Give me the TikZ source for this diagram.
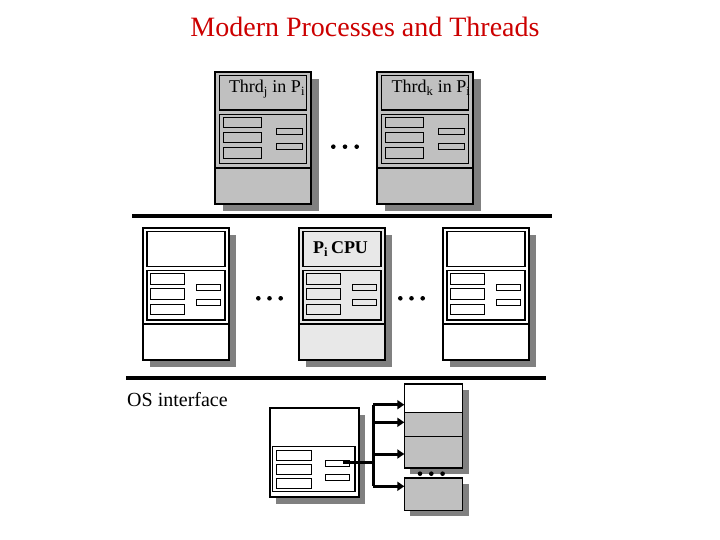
\documentclass[tikz,border=0pt]{standalone}
\usepackage{fontspec}
\setmainfont{Liberation Serif}
\usetikzlibrary{arrows.meta}
\definecolor{titlered}{RGB}{204,0,0}
\definecolor{gA}{RGB}{192,192,192}
\definecolor{gB}{RGB}{232,232,232}
\definecolor{shd}{RGB}{128,128,128}
\tikzset{
  bx/.style={draw=black, line width=1.1pt, inner sep=0pt, outer sep=0pt},
  sbx/.style={draw=black, line width=1pt, inner sep=0pt, outer sep=0pt},
  rs/.style 2 args={minimum width=#1pt, minimum height=#2pt, anchor=north west},
  shadowbox/.style={fill=shd, draw=none, inner sep=0pt, outer sep=0pt},
  divline/.style={line width=1.1pt},
  bar/.style={line width=4pt},
  thk/.style={line width=3pt},
  arr/.style={line width=3pt, -{Triangle[length=7pt,width=9pt]}},
  dotn/.style={circle, fill=black, inner sep=0pt, minimum size=4.6pt},
  lbl/.style={inner sep=0pt, font=\fontsize{18}{20}\selectfont},
  pics/upper/.style={code={
    \node[shadowbox, rs={96}{132}] (-sh) at (7.5,7.5) {};
    \node[bx, fill=#1, rs={96}{132}] (-out) at (0,0) {};
    \node[bx, fill=#1, rs={87}{34.5}] (-hdr) at (4.5,3.5) {};
    \node[bx, fill=#1, rs={87}{49}] (-mid) at (4.5,42.5) {};
    \draw[divline] (0,96) -- (96,96);
    \node[sbx, fill=#1, rs={38.5}{10.5}] (-a) at (8,45.5) {};
    \node[sbx, fill=#1, rs={38.5}{10.5}] (-b) at (8,60.5) {};
    \node[sbx, fill=#1, rs={38.5}{10.5}] (-c) at (8,76) {};
    \node[sbx, fill=#1, rs={26}{6}] (-d) at (61,56.3) {};
    \node[sbx, fill=#1, rs={26}{6}] (-e) at (61,71.3) {};
  }},
  pics/lower/.style={code={
    \node[shadowbox, rs={86}{132}] (-sh) at (7,7) {};
    \node[bx, fill=#1, rs={86}{132}] (-out) at (0,0) {};
    \node[bx, fill=#1, rs={78}{35}] (-hdr) at (4,3.5) {};
    \node[bx, fill=#1, rs={78}{49.5}] (-mid) at (4,42.5) {};
    \draw[divline] (0,96) -- (86,96);
    \node[sbx, fill=#1, rs={34}{10.5}] (-a) at (7,45.5) {};
    \node[sbx, fill=#1, rs={34}{10.5}] (-b) at (7,60.5) {};
    \node[sbx, fill=#1, rs={34}{10.5}] (-c) at (7,76) {};
    \node[sbx, fill=#1, rs={24}{6}] (-d) at (53,56.5) {};
    \node[sbx, fill=#1, rs={24}{6}] (-e) at (53,71.5) {};
  }}
}
\begin{document}
\begin{tikzpicture}[x=1pt, y=-1pt]
\useasboundingbox (0,0) rectangle (720,540);

% title
\node[inner sep=0pt, anchor=base, text=titlered, font=\fontsize{28}{30}\selectfont] (title) at (365,37) {Modern Processes and Threads};

% upper thread boxes
\pic (b1) at (215,72) {upper=gA};
\pic (b2) at (377,72) {upper=gA};
\node[lbl, anchor=base] (t1lbl) at (267,93) {Thrd\textsubscript{j} in P\textsubscript{i}};
\node[lbl, anchor=base] (t2lbl) at (431,93) {Thrd\textsubscript{k} in P\textsubscript{i}};
\node[dotn] (da1) at (333.3,146.7) {};
\node[dotn] (da2) at (345,146.7) {};
\node[dotn] (da3) at (356.7,146.7) {};

% first bar
\coordinate (bar1l) at (132,216);
\coordinate (bar1r) at (552,216);
\draw[bar] (bar1l) -- (bar1r);

% middle process boxes
\pic (b3) at (143,228) {lower=white};
\pic (b4) at (299,228) {lower=gB};
\pic (b5) at (443,228) {lower=white};
\node[lbl, anchor=base, font=\fontsize{18}{20}\selectfont\bfseries] (cpulbl) at (340.5,254) {P\textsubscript{i}\,CPU};
\node[dotn] (db1) at (258.3,298.3) {};
\node[dotn] (db2) at (269.5,298.3) {};
\node[dotn] (db3) at (280.7,298.3) {};
\node[dotn] (dc1) at (400.3,298.3) {};
\node[dotn] (dc2) at (411.5,298.3) {};
\node[dotn] (dc3) at (422.7,298.3) {};

% second bar
\coordinate (bar2l) at (126,378);
\coordinate (bar2r) at (546,378);
\draw[bar] (bar2l) -- (bar2r);
\node[inner sep=0pt, anchor=base west, font=\fontsize{20}{22}\selectfont] (osi) at (127,406) {OS interface};

% bottom process box
\node[shadowbox, rs={89}{89}] (b6sh) at (276.3,414.5) {};
\node[bx, fill=white, rs={89}{89}] (b6) at (270,408) {};
\node[bx, fill=white, rs={82.3}{45}] (b6-mid) at (272.7,446.7) {};
\node[sbx, rs={35}{10}] (b6-a) at (276.7,450) {};
\node[sbx, rs={35}{10}] (b6-b) at (276.7,464.3) {};
\node[sbx, rs={35}{10}] (b6-c) at (276.7,478.3) {};
\node[sbx, rs={24.3}{6}] (b6-d) at (325,460.7) {};
\node[sbx, rs={24.3}{6}] (b6-e) at (325,474.3) {};

% stack
\node[shadowbox, rs={58.4}{84}] (stsh) at (410.3,390) {};
\node[bx, fill=white, rs={58.4}{28.3}] (s1) at (404.3,384) {};
\node[bx, fill=gA, rs={58.4}{24}] (s2) at (404.3,412.3) {};
\node[bx, fill=gA, rs={58.4}{31.7}] (s3) at (404.3,436.3) {};
\node[shadowbox, rs={58.4}{32.3}] (s4sh) at (410.3,484) {};
\node[bx, fill=gA, rs={58.4}{32.3}] (s4) at (404.3,478) {};
\node[dotn] (dd1) at (420,473.7) {};
\node[dotn] (dd2) at (431.3,473.7) {};
\node[dotn] (dd3) at (442.6,473.7) {};

% connectors
\coordinate (src) at (343.3,462);
\coordinate (jn) at (373.3,462);
\coordinate (tr1) at (373.3,404.7);
\coordinate (tr2) at (373.3,422.3);
\coordinate (tr3) at (373.3,454);
\coordinate (tr4) at (373.3,486.3);
\draw[thk] (src) -- (jn);
\draw[thk] (tr1) -- (tr4);
\draw[arr] (tr1) -- (tr1 -| s1.west);
\draw[arr] (tr2) -- (tr2 -| s2.west);
\draw[arr] (tr3) -- (tr3 -| s3.west);
\draw[arr] (tr4) -- (tr4 -| s4.west);
\end{tikzpicture}
\end{document}
